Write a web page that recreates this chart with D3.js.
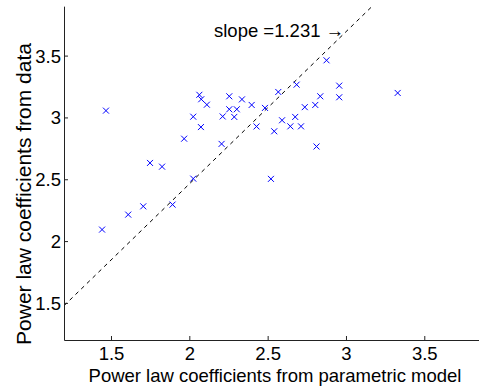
<!DOCTYPE html>
<html><head><meta charset="utf-8">
<script src="https://cdn.jsdelivr.net/npm/d3@7"></script>
<style>
html,body{margin:0;padding:0;background:#fff;}
svg{display:block;}
text{font-family:"Liberation Sans",Arial,Helvetica,sans-serif;fill:#000;}
</style></head><body>
<svg id="chart" width="479" height="386"></svg>
<script>
// Data
const xModel = [1.468,2.064,2.076,2.112,2.025,2.255,2.255,2.303,2.336,2.398,2.213,2.287,2.483,2.568,2.685,2.876,2.957,2.957,2.836,2.804,2.737,2.592,2.676,3.330,2.812,2.074,1.967,2.206,1.749,1.826,2.025,2.521,2.429,2.542,2.645,2.713,1.706,1.610,1.893,1.443];
const yData  = [3.055,3.183,3.147,3.103,3.006,3.171,3.066,3.066,3.146,3.101,3.008,3.004,3.077,3.206,3.265,3.462,3.257,3.163,3.171,3.101,3.083,2.977,3.004,3.198,2.765,2.922,2.828,2.786,2.632,2.602,2.505,2.503,2.927,2.888,2.928,2.928,2.281,2.214,2.295,2.093];
const xTicks = [1.5,2,2.5,3,3.5];
const yTicks = [1.5,2,2.5,3,3.5];
const slope = 1.231;
const slopeLabel = "slope =1.231 \u2192";
const xLabel = "Power law coefficients from parametric model";
const yLabel = "Power law coefficients from data";

const svg = d3.select("#chart");
const x = d3.scaleLinear().domain([1.2,3.9]).range([64, 64+2.7*156.65]);
const y = d3.scaleLinear().domain([1.2,3.9]).range([340, 340-2.7*123.65]);
const fmt = d => String(d);

// clip
svg.append("clipPath").attr("id","clip").append("rect")
  .attr("x",64).attr("y",y(3.9)).attr("width",x(3.9)-64).attr("height",340-y(3.9));

// fit line
const xEnd = 3.9/slope;
svg.append("line").attr("clip-path","url(#clip)")
  .attr("x1",x(1.2)).attr("y1",y(1.2*slope))
  .attr("x2",x(xEnd)).attr("y2",y(xEnd*slope))
  .attr("stroke","#000").attr("stroke-width",1).attr("stroke-dasharray","4,4");

// markers
const s = 3;
const g = svg.append("g").attr("clip-path","url(#clip)");
xModel.forEach((xv,i)=>{
  const cx = x(xv), cy = y(yData[i]);
  g.append("path").attr("d",`M${cx-s},${cy-s}L${cx+s},${cy+s}M${cx-s},${cy+s}L${cx+s},${cy-s}`)
    .attr("stroke","#0000ff").attr("stroke-width",1).attr("fill","none");
});

// axes
const xAxis = d3.axisBottom(x).tickValues(xTicks).tickFormat(fmt).tickSizeInner(-4).tickSizeOuter(0).tickPadding(7);
const yAxis = d3.axisLeft(y).tickValues(yTicks).tickFormat(fmt).tickSizeInner(-4).tickSizeOuter(0).tickPadding(3);
const gx = svg.append("g").attr("transform","translate(0,340)").call(xAxis);
const gy = svg.append("g").attr("transform","translate(64,0)").call(yAxis);
[gx,gy].forEach(a=>{
  a.select(".domain").attr("stroke","#222");
  a.selectAll(".tick line").attr("stroke","#222");
  a.selectAll(".tick text").style("font-size","18.5px").attr("fill","#000").style("font-family",'"Liberation Sans",Arial,sans-serif');
});
gy.selectAll(".tick text").attr("dy","0.35em");

// labels
svg.append("text").attr("x",275).attr("y",382).attr("text-anchor","middle")
  .style("font-size","18.5px").text(xLabel);
svg.append("text").attr("transform","translate(31,194) rotate(-90)").attr("text-anchor","middle")
  .style("font-size","21px").text(yLabel);
svg.append("text").attr("x",214).attr("y",37).style("font-size","18.5px").text(slopeLabel);
</script>
</body></html>
